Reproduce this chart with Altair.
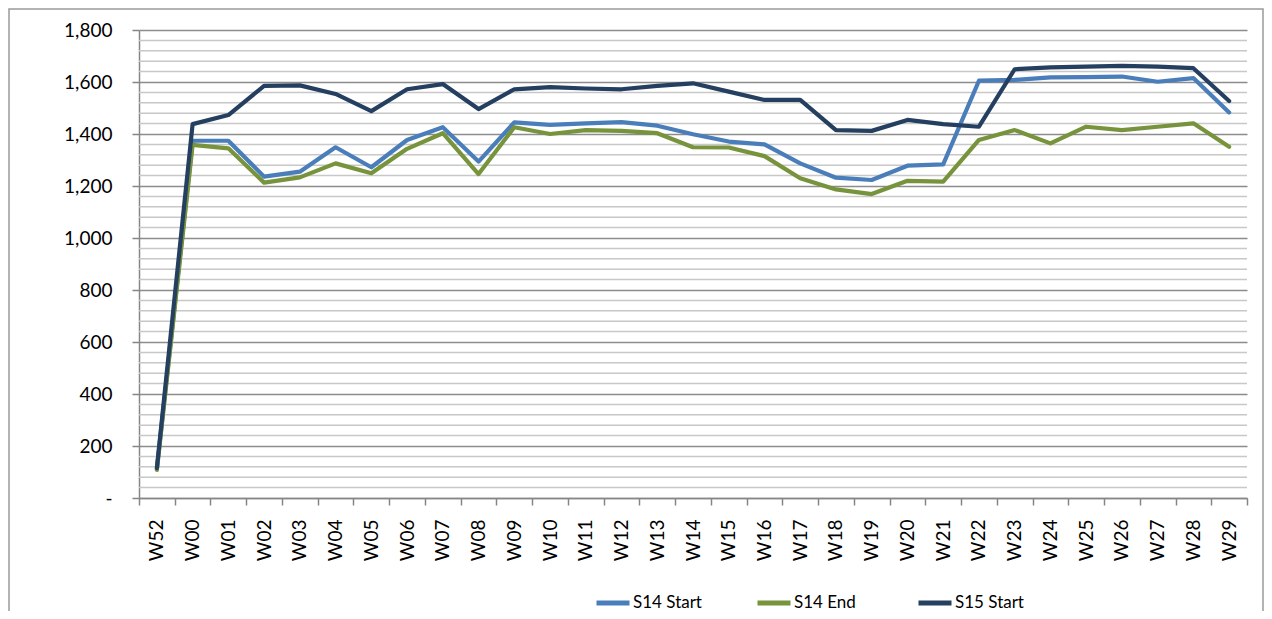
import altair as alt
import pandas as pd

weeks = ["W52", "W00", "W01", "W02", "W03", "W04", "W05", "W06", "W07", "W08",
         "W09", "W10", "W11", "W12", "W13", "W14", "W15", "W16", "W17", "W18",
         "W19", "W20", "W21", "W22", "W23", "W24", "W25", "W26", "W27", "W28", "W29"]

s14_start = [112, 1374, 1374, 1236, 1255, 1349, 1272, 1377, 1426, 1294,
             1445, 1435, 1441, 1446, 1432, 1399, 1371, 1360, 1287, 1232,
             1223, 1278, 1283, 1605, 1608, 1618, 1619, 1621, 1601, 1615, 1483]
s14_end = [108, 1358, 1345, 1213, 1233, 1287, 1249, 1343, 1403, 1246,
           1426, 1400, 1415, 1412, 1403, 1349, 1348, 1315, 1230, 1187,
           1169, 1220, 1217, 1377, 1415, 1364, 1428, 1415, 1428, 1441, 1351]
s15_start = [115, 1438, 1473, 1585, 1587, 1554, 1488, 1572, 1592, 1496,
             1572, 1580, 1575, 1572, 1585, 1595, 1563, 1531, 1531, 1415,
             1412, 1454, 1438, 1428, 1649, 1656, 1659, 1662, 1659, 1653, 1527]

series_names = ["S14 Start", "S14 End", "S15 Start"]
series_colors = ["#4a7ebb", "#77933c", "#243f60"]

major_ticks = list(range(0, 1801, 200))
minor_ticks = [v for v in range(0, 1801, 40) if v % 200 != 0]

rows = []
for name, vals in zip(series_names, [s14_start, s14_end, s15_start]):
    for w, v in zip(weeks, vals):
        rows.append({"week": w, "series": name, "value": v})
df = pd.DataFrame(rows)
df["order"] = df["series"].map({n: i for i, n in enumerate(series_names)})

W, H = 1108, 468
PAD_L, PAD_T, PAD_R, PAD_B = 131, 22, 17, 113

y_scale = alt.Scale(domain=[0, 1800], nice=False)
x_scale = alt.Scale(type="band", domain=weeks, paddingInner=0, paddingOuter=0)

y_axis = alt.Axis(values=major_ticks, grid=True, gridColor="#8c8c8c",
                  gridWidth=1.5, tickSize=7, labelPadding=20,
                  domainColor="#868686", tickColor="#868686",
                  domainWidth=1.5, tickWidth=1.5,
                  labelExpr="datum.value == 0 ? '-\u00a0\u00a0\u00a0' : format(datum.value, ',')")

minor = alt.Chart(pd.DataFrame({"v": minor_ticks})).mark_rule(
    color="#c8c8c8", strokeWidth=1.5
).encode(y=alt.Y("v:Q", scale=y_scale, axis=y_axis, title=None))

lines = alt.Chart(df).mark_line(
    strokeWidth=4.2, strokeJoin="round", strokeCap="round"
).encode(
    x=alt.X("week:O", scale=x_scale, sort=weeks, title=None,
            axis=alt.Axis(tickBand="extent", labelAngle=270, labelAlign="right",
                          labelBaseline="middle", tickSize=7, labelPadding=14,
                          domainColor="#868686", tickColor="#868686",
                          domainWidth=1.5, tickWidth=1.5, grid=False)),
    y=alt.Y("value:Q", scale=y_scale, title=None, axis=y_axis),
    color=alt.Color("series:N", scale=alt.Scale(domain=series_names, range=series_colors),
                    title=None,
                    legend=alt.Legend(orient="none", legendX=455, legendY=554,
                                      direction="horizontal", columns=3,
                                      gridAlign="all", columnPadding=45,
                                      symbolType="stroke", symbolSize=1089,
                                      symbolStrokeWidth=5, labelOffset=1,
                                      labelFontSize=17, labelColor="#000000")),
    order=alt.Order("order:Q"),
)

border = alt.Chart(pd.DataFrame({"a": [0]})).mark_rect(
    fillOpacity=0, stroke="#9a9a9a", strokeWidth=1.5
).encode(
    x=alt.value(-PAD_L + 1), x2=alt.value(W + PAD_R - 1),
    y=alt.value(-PAD_T + 1), y2=alt.value(H + PAD_B + 20),
)

chart = alt.layer(border, minor, lines).properties(
    width=W, height=H,
    autosize=alt.AutoSizeParams(type="none"),
    padding={"left": PAD_L, "top": PAD_T, "right": PAD_R, "bottom": PAD_B},
).configure_view(stroke=None).configure_axis(
    labelFont="Lato", labelFontSize=19, labelColor="#000000"
).configure_legend(labelFont="Lato")

chart.save("out.html", embed_options={"renderer": "svg", "actions": False})
